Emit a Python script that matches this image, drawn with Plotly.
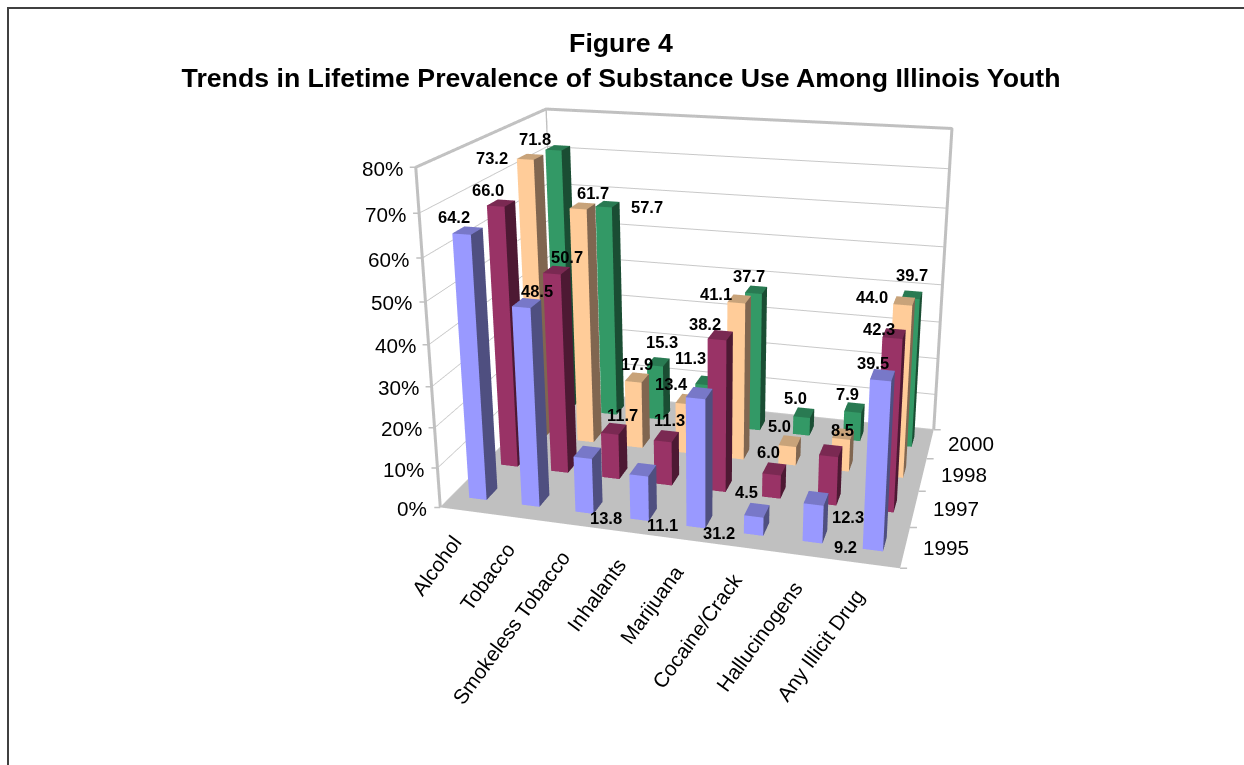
import plotly.graph_objects as go

categories = ["Alcohol", "Tobacco", "Smokeless Tobacco", "Inhalants", "Marijuana",
              "Cocaine/Crack", "Hallucinogens", "Any Illicit Drug"]
years = ["1995", "1997", "1998", "2000"]
values_1995 = [64.2, 48.5, 13.8, 11.1, 31.2, 4.5, 9.2, 39.5]
values_1997 = [66.0, 50.7, 11.7, 11.3, 38.2, 6.0, 12.3, 42.3]
values_1998 = [73.2, 61.7, 17.9, 13.4, 41.1, 5.0, 8.5, 44.0]
values_2000 = [71.8, 57.7, 15.3, 11.3, 37.7, 5.0, 7.9, 39.7]
pct_ticks = [0, 10, 20, 30, 40, 50, 60, 70, 80]

series = [values_1995, values_1997, values_1998, values_2000]

# front, side and top shades of each year's bars
face_colors = [("#9999FF", "#4F4F80", "#7878C8"), ("#993366", "#4D1933", "#7A2952"),
               ("#FFCC99", "#806650", "#C8A37A"), ("#339966", "#1A4D33", "#297A52")]

# centre of each value label on the page, per year and category
label_px = [
    [(454, 217), (537, 291), (606, 518), (663, 525), (719, 533), (746, 492), (845, 547), (873, 363)],
    [(488, 190), (567, 257), (622, 415), (670, 420), (705, 324), (768, 452), (848, 517), (879, 329)],
    [(492, 158), (593, 193), (637, 364), (671, 384), (716, 294), (780, 426), (842, 430), (872, 297)],
    [(535, 139), (647, 207), (662, 342), (690, 358), (749, 276), (795, 398), (847, 394), (912, 275)],
]

PAGE_W = 1244
FIG_H = 1062      # the scene needs this height for its perspective
TOP_OFFSET = 233  # part of the figure scrolled above the page
GRID = "#C8C8C8"
WALL = "#C0C0C0"
FONT = "Liberation Sans"


def page_y(py):
    return 1 - (py + TOP_OFFSET) / FIG_H


traces = []
for row, vals in enumerate(series):
    xs, ys, zs, i, j, k, fc = [], [], [], [], [], [], []
    front, side, top = face_colors[row]
    for col, v in enumerate(vals):
        x0, x1, y0, y1 = col + 1 / 3, col + 2 / 3, row + 1 / 3, row + 2 / 3
        n = len(xs)
        xs += [x0, x1, x1, x0, x0, x1, x1, x0]
        ys += [y0, y0, y1, y1, y0, y0, y1, y1]
        zs += [0, 0, 0, 0, v, v, v, v]
        for a, b, c, color in [(0, 1, 5, front), (0, 5, 4, front), (1, 2, 6, side),
                               (1, 6, 5, side), (4, 5, 6, top), (4, 6, 7, top)]:
            i.append(n + a); j.append(n + b); k.append(n + c); fc.append(color)
    traces.append(go.Mesh3d(x=xs, y=ys, z=zs, i=i, j=j, k=k, facecolor=fc, flatshading=True,
                            name=years[row], hoverinfo="skip",
                            lighting=dict(ambient=1, diffuse=0, specular=0, fresnel=0, roughness=1)))

# outline of the two walls
traces.append(go.Scatter3d(x=[0, 0, 0, 8, 8], y=[0, 0, 4, 4, 4], z=[0, 80, 80, 80, 0], mode="lines",
                           line=dict(color=WALL, width=6), hoverinfo="skip"))
traces.append(go.Scatter3d(x=[0, 0], y=[4, 4], z=[0, 80], mode="lines",
                           line=dict(color=WALL, width=4), hoverinfo="skip"))

tick_font = dict(size=20.7, family=FONT, color="black")
scene_notes = []


def tick_mark(x, y, z, ax, ay):
    return dict(x=x, y=y, z=z, text=" ", showarrow=True, arrowhead=0, arrowwidth=1.5,
                arrowcolor=WALL, ax=ax, ay=ay, standoff=0)


for t in pct_ticks:
    scene_notes.append(tick_mark(0, 0, t, -9, 0))
    scene_notes.append(dict(x=0, y=0, z=t, text=f"{t}%", showarrow=False, xanchor="right",
                            yanchor="middle", xshift=-11, yshift=-1, font=tick_font))
for n in range(len(categories) + 1):
    scene_notes.append(tick_mark(n, 0, 0, 0, 10))
for n, name in enumerate(categories):
    scene_notes.append(dict(x=n + .5, y=0, z=0, text=name, showarrow=False, textangle=-54,
                            xanchor="right", yanchor="top", xshift=2, yshift=-18, font=tick_font))
for n in range(len(years) + 1):
    scene_notes.append(tick_mark(8, n, 0, 10, 0))
for n, name in enumerate(years):
    scene_notes.append(dict(x=8, y=n + .5, z=0, text=name, showarrow=False, xanchor="left",
                            yanchor="middle", xshift=16, font=tick_font))

page_notes = []
for row, vals in enumerate(series):
    for col, v in enumerate(vals):
        px, py = label_px[row][col]
        page_notes.append(dict(x=px / PAGE_W, y=page_y(py), xref="paper", yref="paper",
                               text=f"<b>{v:.1f}</b>", showarrow=False, xanchor="center",
                               yanchor="middle", font=dict(size=16.5, family=FONT, color="black")))

axis = dict(showticklabels=False, title="", showspikes=False, zeroline=False, showline=False, ticks="")
fig = go.Figure(traces)
fig.update_layout(
    width=PAGE_W, height=FIG_H, margin=dict(l=0, r=0, t=0, b=0), showlegend=False,
    paper_bgcolor="white",
    title=dict(text="<b>Figure 4<br>Trends in Lifetime Prevalence of Substance Use Among Illinois Youth</b>",
               x=621 / PAGE_W, xanchor="center", y=page_y(52), yanchor="top",
               font=dict(size=26.7, family=FONT, color="black")),
    # page frame: its right and bottom sides lie past the edge of the page
    shapes=[dict(type="rect", xref="paper", yref="paper", x0=8 / PAGE_W, x1=1.01,
                 y0=0, y1=page_y(8), line=dict(color="#404040", width=2))],
    annotations=page_notes,
    scene=dict(
        domain=dict(x=[168 / PAGE_W, 1], y=[0, 1]),
        aspectmode="manual", aspectratio=dict(x=1.323, y=0.9211, z=1),
        camera=dict(eye=dict(x=0.9406, y=-3.4737, z=1.2315),
                    center=dict(x=-0.0183, y=0.1018, z=0.0123),
                    up=dict(x=0.001, y=0, z=1)),
        xaxis=dict(axis, range=[0, 8], showgrid=False, showbackground=True, backgroundcolor="white"),
        yaxis=dict(axis, range=[0, 4], showgrid=False, showbackground=True, backgroundcolor="white"),
        zaxis=dict(axis, range=[0, 80], tickvals=pct_ticks, showgrid=True, gridcolor=GRID, gridwidth=2,
                   showbackground=True, backgroundcolor=WALL),
        annotations=scene_notes))
fig.write_html("out.html", post_script=(
    "document.documentElement.style.overflow='hidden';"
    f"document.body.style.overflow='hidden';gd=document.getElementById('{{plot_id}}');"
    f"gd.style.marginTop='-{TOP_OFFSET}px';"))
